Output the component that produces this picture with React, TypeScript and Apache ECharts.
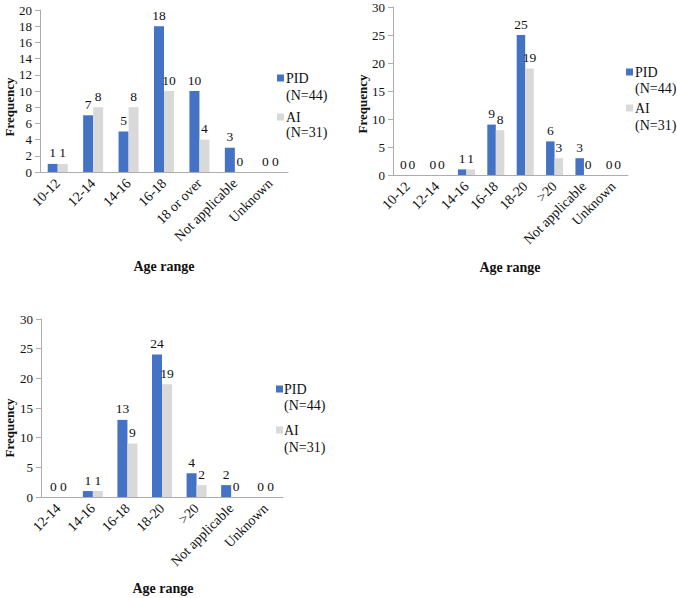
import React, { useEffect, useRef } from "react";
import * as echarts from "echarts";

const categories1 = ["10-12", "12-14", "14-16", "16-18", "18 or over", "Not applicable", "Unknown"];
const pid1 = [1, 7, 5, 18, 10, 3, 0];
const ai1 = [1, 8, 8, 10, 4, 0, 0];

const categories2 = ["10-12", "12-14", "14-16", "16-18", "18-20", ">20", "Not applicable", "Unknown"];
const pid2 = [0, 0, 1, 9, 25, 6, 3, 0];
const ai2 = [0, 0, 1, 8, 19, 3, 0, 0];

const categories3 = ["12-14", "14-16", "16-18", "18-20", ">20", "Not applicable", "Unknown"];
const pid3 = [0, 1, 13, 24, 4, 2, 0];
const ai3 = [0, 1, 9, 19, 2, 0, 0];

const seriesNames = ["PID", "AI"];
const seriesSub = ["(N=44)", "(N=31)"];
const xTitle = "Age range";
const yTitle = "Frequency";

const FONT = '"Liberation Serif", "Times New Roman", serif';
const BLUE = "#4472C4";
const GREY = "#D9D9D9";
const AXIS = "#ADADAD";
const TEXT = "#111111";

export default function App() {
  const ref = useRef<HTMLDivElement>(null);
  useEffect(() => {
    if (!ref.current) return;
    const chart = echarts.init(ref.current, undefined, { renderer: "svg" });

    const grids = [
      { left: 40, top: 10, width: 248, height: 162 },
      { left: 393, top: 7, width: 235, height: 168 },
      { left: 41, top: 319, width: 242, height: 178 },
    ];
    const cats = [categories1, categories2, categories3];
    const yMax = [20, 30, 30];
    const yInt = [2, 5, 5];
    const data = [
      [pid1, ai1],
      [pid2, ai2],
      [pid3, ai3],
    ];
    const barW = [10, 8.5, 10];

    const xAxes = cats.map((c, i) => ({
      type: "category",
      gridIndex: i,
      data: c,
      axisLine: { show: true, lineStyle: { color: AXIS, width: 1 } },
      axisTick: { show: false },
      axisLabel: {
        rotate: 45,
        interval: 0,
        margin: 9,
        color: TEXT,
        fontFamily: FONT,
        fontSize: 14,
      },
    }));
    const yAxes = yMax.map((m, i) => ({
      type: "value",
      gridIndex: i,
      min: 0,
      max: m,
      interval: yInt[i],
      splitLine: { show: false },
      axisLine: { show: true, lineStyle: { color: AXIS, width: 1 } },
      axisTick: { show: true, length: 5, lineStyle: { color: AXIS } },
      axisLabel: { margin: 8, color: TEXT, fontFamily: FONT, fontSize: 13 },
    }));

    const series: any[] = [];
    data.forEach((pair, gi) => {
      pair.forEach((vals, si) => {
        series.push({
          type: "bar",
          name: seriesNames[si],
          xAxisIndex: gi,
          yAxisIndex: gi,
          data: vals,
          barWidth: barW[gi],
          barGap: "0%",
          itemStyle: { color: si === 0 ? BLUE : GREY },
          label: {
            show: true,
            position: "top",
            distance: 4,
            color: TEXT,
            fontFamily: FONT,
            fontSize: 13.5,
          },
        });
      });
    });

    const titleFontX = `bold 14px ${FONT}`;
    const titleFontY = `bold 13px ${FONT}`;
    const legendFont = `14px ${FONT}`;

    const axisTitles = [
      { xc: 164, xy: 266, yx: 9, yy: 107 },
      { xc: 510, xy: 267, yx: 362, yy: 104 },
      { xc: 163, xy: 588, yx: 9, yy: 428 },
    ];
    const legends = [
      { rx: 277, tx: 286, y: [78, 95, 117, 132] },
      { rx: 626, tx: 635, y: [72, 88, 108, 125] },
      { rx: 276, tx: 284, y: [389, 405, 430, 447] },
    ];

    const graphics: any[] = [];
    axisTitles.forEach((t) => {
      graphics.push({
        type: "text",
        x: t.xc,
        y: t.xy,
        style: {
          text: xTitle,
          font: titleFontX,
          fill: TEXT,
          align: "center",
          verticalAlign: "middle",
          textAlign: "center",
          textVerticalAlign: "middle",
        },
      });
      graphics.push({
        type: "text",
        x: t.yx,
        y: t.yy,
        rotation: Math.PI / 2,
        style: {
          text: yTitle,
          font: titleFontY,
          fill: TEXT,
          align: "center",
          verticalAlign: "middle",
          textAlign: "center",
          textVerticalAlign: "middle",
        },
      });
    });
    legends.forEach((l) => {
      [0, 1].forEach((si) => {
        const yMain = l.y[si * 2];
        const ySub = l.y[si * 2 + 1];
        graphics.push({
          type: "rect",
          shape: { x: l.rx, y: yMain - 3.5, width: 7, height: 7 },
          style: { fill: si === 0 ? BLUE : GREY },
        });
        graphics.push({
          type: "text",
          x: l.tx,
          y: yMain,
          style: {
            text: seriesNames[si],
            font: legendFont,
            fill: TEXT,
            align: "left",
            verticalAlign: "middle",
            textAlign: "left",
            textVerticalAlign: "middle",
          },
        });
        graphics.push({
          type: "text",
          x: l.tx,
          y: ySub,
          style: {
            text: seriesSub[si],
            font: legendFont,
            fill: TEXT,
            align: "left",
            verticalAlign: "middle",
            textAlign: "left",
            textVerticalAlign: "middle",
          },
        });
      });
    });

    chart.setOption({
      animation: false,
      backgroundColor: "#ffffff",
      textStyle: { fontFamily: FONT },
      grid: grids.map((g) => ({ ...g, containLabel: false, outerBoundsMode: "none" })),
      xAxis: xAxes,
      yAxis: yAxes,
      series,
      graphic: { elements: graphics },
    });
    return () => chart.dispose();
  }, []);
  return (
    <div
      ref={ref}
      style={{ position: "fixed", left: 0, top: 0, width: 677, height: 598, background: "#fff" }}
    />
  );
}
